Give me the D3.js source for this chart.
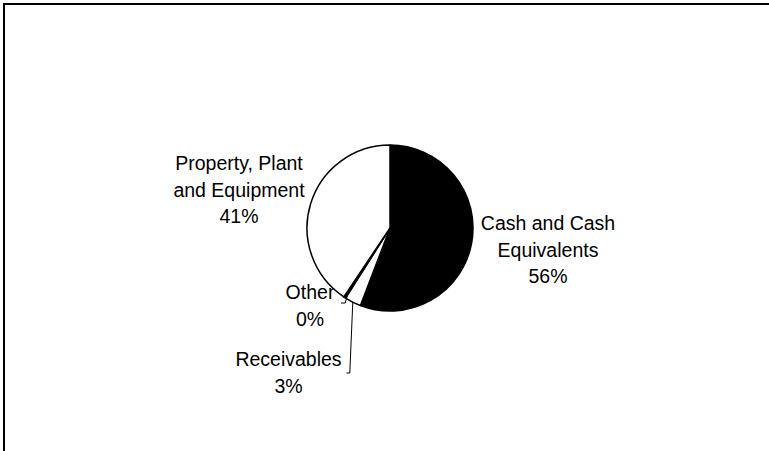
<!DOCTYPE html>
<html>
<head>
<meta charset="utf-8">
<script src="https://cdn.jsdelivr.net/npm/d3@7"></script>
<style>
  html, body { margin: 0; padding: 0; background: #fff; }
  svg { display: block; }
  text { font-family: "Liberation Sans", Arial, sans-serif; font-size: 19.5px; fill: #000; }
</style>
</head>
<body>
<svg id="chart" width="769" height="451"></svg>
<script>
// Asset breakdown
const categories = ["Cash and Cash Equivalents", "Receivables", "Other", "Property, Plant and Equipment"];
const values = [55.8, 3.2, 0.4, 40.6];
const labelLines = [["Cash and Cash", "Equivalents"], ["Receivables"], ["Other"], ["Property, Plant", "and Equipment"]];
const fills = ["#000000", "#ffffff", "#000000", "#ffffff"];

const W = 769, H = 451;
const cx = 390, cy = 228, R = 83;
const lineH = 26.5;

// label block layout: centre x and y of the first line, relative to the pie centre
const labelLayout = [
  { dx: 158, dy: -5 },
  { dx: -101.5, dy: 131 },
  { dx: -80, dy: 64 },
  { dx: -151, dy: -65 }
];

const svg = d3.select("#chart");

// chart frame
svg.append("rect")
  .attr("x", 4).attr("y", 4)
  .attr("width", W + 20).attr("height", H + 20)
  .attr("fill", "#fff").attr("stroke", "#000").attr("stroke-width", 2);

const total = d3.sum(values);
const data = categories.map((c, i) => ({ name: c, value: values[i], lines: labelLines[i], fill: fills[i], i }));

const pie = d3.pie().sort(null).value(d => d.value)
  .startAngle(0).endAngle(2 * Math.PI);
const arcs = pie(data);
const arc = d3.arc().innerRadius(0).outerRadius(R);

const g = svg.append("g").attr("transform", `translate(${cx},${cy})`);

g.selectAll("path.slice")
  .data(arcs)
  .join("path")
  .attr("class", "slice")
  .attr("d", arc)
  .attr("fill", d => d.data.fill)
  .attr("stroke", "#000")
  .attr("stroke-width", 1.5)
  .attr("stroke-linejoin", "round");

const pct = d => Math.round(d.value / total * 100) + "%";

// labels
const labels = g.selectAll("g.label")
  .data(arcs)
  .join("g")
  .attr("class", "label")
  .attr("transform", d => `translate(${labelLayout[d.index].dx},${labelLayout[d.index].dy})`);

labels.each(function (d) {
  const lines = d.data.lines.concat([pct(d.data)]);
  d3.select(this).selectAll("text")
    .data(lines)
    .join("text")
    .attr("text-anchor", "middle")
    .attr("x", 0)
    .attr("y", (l, k) => k * lineH + 7)
    .text(l => l);
});

// leader lines for the two thin slices
function edgePoint(a, r) {
  return [r * Math.sin(a), -r * Math.cos(a)];
}
const leaderFor = {
  1: d => {
    const mid = (d.startAngle + d.endAngle) / 2;
    const p = edgePoint(mid, R);
    const lx = labelLayout[1].dx, ly = labelLayout[1].dy;
    const yEnd = ly + 14;
    return [p, [p[0] - 3, yEnd], [lx + 58, yEnd]];
  },
  2: d => {
    const mid = (d.startAngle + d.endAngle) / 2;
    const p = edgePoint(mid, R * 0.92);
    const lx = labelLayout[2].dx, ly = labelLayout[2].dy;
    const yEnd = ly + 11;
    return [p, [p[0] - 3, yEnd], [lx + 31, yEnd]];
  }
};

g.selectAll("path.leader")
  .data(arcs.filter(d => leaderFor[d.index]))
  .join("path")
  .attr("class", "leader")
  .attr("d", d => d3.line()(leaderFor[d.index](d)))
  .attr("fill", "none")
  .attr("stroke", "#000")
  .attr("stroke-width", 1);
</script>
</body>
</html>
